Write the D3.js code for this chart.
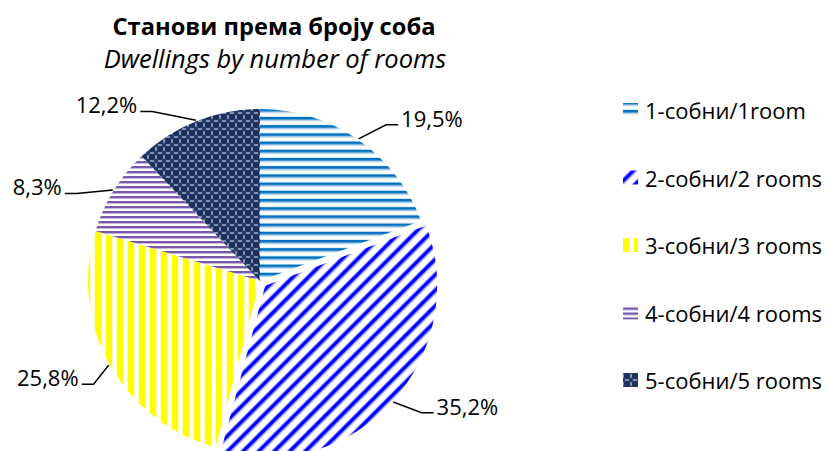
<!DOCTYPE html>
<html>
<head>
<meta charset="utf-8">
<script src="https://cdn.jsdelivr.net/npm/d3@7"></script>
<style>
  body { margin: 0; background: #fff; }
  svg { display: block; font-family: "Open Sans", Carlito, "Noto Sans", sans-serif; }
</style>
</head>
<body>
<div id="chart"></div>
<script>
// --- Data ---
const categories = ["1-собни/1room", "2-собни/2 rooms", "3-собни/3 rooms", "4-собни/4 rooms", "5-собни/5 rooms"];
const shares = [19.5, 35.2, 25.8, 8.3, 12.2];
const shareLabels = ["19,5%", "35,2%", "25,8%", "8,3%", "12,2%"];
const exploded = [false, true, false, false, false];

// --- Layout (label spots as polar angle in degrees / radius from pie centre) ---
const labelAngles = [46.5, 121, 245.6, 293, 319];
const labelRadii = [237, 242, 233, 242, 234];

const width = 830, height = 451;
const cx = 260, cy = 281, r = 172, explodeBy = 7;

const svg = d3.select("#chart").append("svg")
  .attr("width", width)
  .attr("height", height);

// --- Fill patterns ---
const defs = svg.append("defs");

function stripePattern(id, size, bands, vertical, rotate) {
  const p = defs.append("pattern")
    .attr("id", id)
    .attr("patternUnits", "userSpaceOnUse")
    .attr("width", size)
    .attr("height", size);
  if (rotate) p.attr("patternTransform", `rotate(${rotate})`);
  p.append("rect").attr("width", size).attr("height", size).attr("fill", "#fff");
  bands.forEach(b => {
    p.append("rect")
      .attr("x", vertical ? b[0] : 0)
      .attr("y", vertical ? 0 : b[0])
      .attr("width", vertical ? b[1] : size)
      .attr("height", vertical ? size : b[1])
      .attr("fill", b[2]);
  });
}

stripePattern("pat-0", 8.2, [[0, 2.6, "#0070C0"], [2.6, 1.4, "#9fc4e6"], [7.4, 0.8, "#d6e6f5"]], false);
stripePattern("pat-1", 11, [[0, 1, "#8a8aff"], [1, 3.4, "#0000FF"], [4.4, 1, "#8a8aff"]], true, 45);
stripePattern("pat-2", 11, [[0, 6, "#FFFF00"], [6, 0.6, "#ffff9a"], [10.4, 0.6, "#ffff9a"]], true);
stripePattern("pat-3", 5, [[0, 2, "#7A58AC"], [2, 1, "#c5b5dd"]], false);

const p5 = defs.append("pattern")
  .attr("id", "pat-4")
  .attr("patternUnits", "userSpaceOnUse")
  .attr("width", 8)
  .attr("height", 8);
p5.append("rect").attr("width", 8).attr("height", 8).attr("fill", "#9eabc6");
p5.append("circle").attr("cx", 4).attr("cy", 4).attr("r", 3.2).attr("fill", "#1a2f5e");
[[0, 0], [8, 0], [0, 8], [8, 8]].forEach(c =>
  p5.append("circle").attr("cx", c[0]).attr("cy", c[1]).attr("r", 2.4).attr("fill", "#24396a"));

// --- Pie ---
const pie = d3.pie().sort(null).value(d => d);
const arcs = pie(shares);
const arc = d3.arc().innerRadius(0).outerRadius(r);

function shift(d, i) {
  if (!exploded[i]) return [0, 0];
  const a = (d.startAngle + d.endAngle) / 2;
  return [Math.sin(a) * explodeBy, -Math.cos(a) * explodeBy];
}

const g = svg.append("g").attr("transform", `translate(${cx},${cy})`);

g.selectAll(".slice")
  .data(arcs)
  .enter()
  .append("path")
  .attr("class", "slice")
  .attr("transform", (d, i) => { const s = shift(d, i); return `translate(${s[0]},${s[1]})`; })
  .attr("d", arc)
  .attr("fill", (d, i) => `url(#pat-${i})`);

// --- Data labels with leader lines ---
arcs.forEach((d, i) => {
  const s = shift(d, i);
  const mid = (d.startAngle + d.endAngle) / 2;
  const px = s[0] + Math.sin(mid) * (r + 1);
  const py = s[1] - Math.cos(mid) * (r + 1);

  const la = labelAngles[i] * Math.PI / 180;
  const tx = Math.sin(la) * labelRadii[i];
  const ty = -Math.cos(la) * labelRadii[i];

  const label = g.append("text")
    .attr("x", tx)
    .attr("y", ty)
    .attr("text-anchor", "middle")
    .attr("dominant-baseline", "central")
    .attr("font-size", "22px")
    .attr("fill", "#000")
    .text(shareLabels[i]);

  const w = label.node().getComputedTextLength();
  const onRight = tx > px;
  const edge = onRight ? tx - w / 2 - 3 : tx + w / 2 + 3;
  const ly = ty + 7;
  const ex = onRight ? Math.max(edge - 12, px) : Math.min(edge + 12, px);

  g.append("polyline")
    .attr("points", `${edge},${ly} ${ex},${ly} ${px},${py}`)
    .attr("fill", "none")
    .attr("stroke", "#000")
    .attr("stroke-width", 1.5);
});

// --- Title ---
svg.append("text")
  .attr("x", 274)
  .attr("y", 35)
  .attr("text-anchor", "middle")
  .attr("font-size", "23.7px")
  .attr("font-weight", "bold")
  .text("Станови према броју соба");

svg.append("text")
  .attr("x", 275)
  .attr("y", 68)
  .attr("text-anchor", "middle")
  .attr("font-size", "25.5px")
  .attr("font-style", "italic")
  .text("Dwellings by number of rooms");

// --- Legend ---
const legendY = d3.scalePoint().domain(categories).range([110, 380]);

const legend = svg.selectAll(".legend")
  .data(categories)
  .enter()
  .append("g")
  .attr("class", "legend")
  .attr("transform", d => `translate(623,${legendY(d)})`);

legend.append("rect")
  .attr("x", 0)
  .attr("y", -7)
  .attr("width", 15)
  .attr("height", 14)
  .attr("fill", (d, i) => `url(#pat-${i})`);

legend.append("text")
  .attr("x", 22)
  .attr("y", 0)
  .attr("dominant-baseline", "central")
  .attr("font-size", "22px")
  .text(d => d);
</script>
</body>
</html>
